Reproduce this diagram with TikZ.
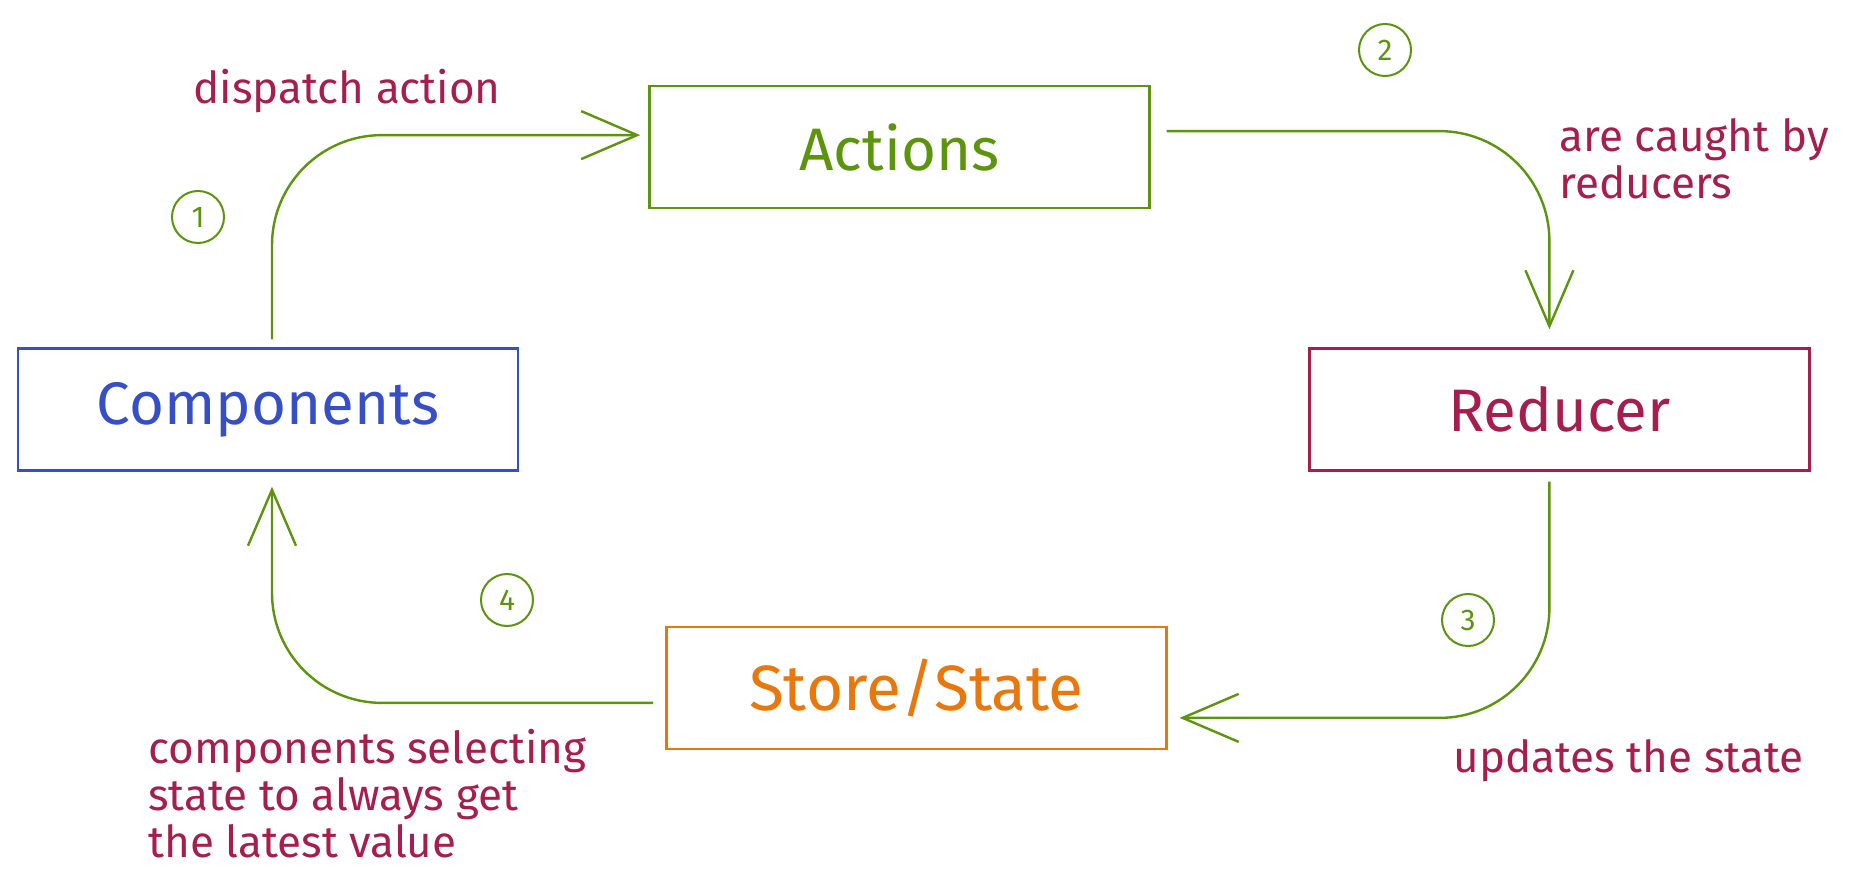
\documentclass[tikz,border=0pt]{standalone}
\usepackage{fontspec}
\setmainfont{Fira Sans}
\usetikzlibrary{positioning,arrows.meta}

\definecolor{compblue}{HTML}{364FC7}
\definecolor{flowgreen}{HTML}{5C940D}
\definecolor{notecrimson}{HTML}{A61E4D}
\definecolor{storeorange}{HTML}{E8770C}

\tikzset{
  block/.style={draw, line width=1.2pt, minimum width=250pt, minimum height=61pt,
    font=\fontsize{30}{36}\selectfont},
  flow/.style={draw=flowgreen, line width=1.2pt, rounded corners=55pt,
    -{Straight Barb[length=28pt,width=24pt]}},
  stepnum/.style={circle, draw=flowgreen, text=flowgreen, line width=1pt,
    minimum size=26pt, inner sep=0pt, font=\fontsize{15}{17}\selectfont},
  note/.style={text=notecrimson, inner sep=0pt, align=left,
    font=\fontsize{22}{23.5}\selectfont},
}

\begin{document}
\begin{tikzpicture}[x=0.5pt,y=0.5pt]
  \useasboundingbox (0,0) rectangle (1856,885);

  \node[block, draw=compblue, text=compblue] (comp) at (268,475.5) {Components};
  \node[block, draw=flowgreen, text=flowgreen, above right=69pt and 64.5pt of comp] (act) {Actions};
  \node[block, draw=notecrimson, text=notecrimson, right=394.5pt of comp] (red) {Reducer};
  \node[block, draw=storeorange, text=storeorange, below right=77pt and 73pt of comp,
    font=\fontsize{32}{36}\selectfont] (store) {Store/State};

  \node[stepnum] (n1) at (198,668) {1};
  \node[stepnum] (n2) at (1385,835) {2};
  \node[stepnum] (n3) at (1468,265) {3};
  \node[stepnum] (n4) at (507,285) {4};

  \draw[flow] ([xshift=2pt,yshift=4pt]comp.north) |- ([xshift=-4pt,yshift=6pt]act.west);
  \draw[flow] ([xshift=8pt,yshift=8pt]act.east) -| ([xshift=-5pt,yshift=9pt]red.north);
  \draw[flow] ([xshift=-5pt,yshift=-5pt]red.south) |- ([xshift=6pt,yshift=-15pt]store.east);
  \draw[flow] ([xshift=-6pt,yshift=-7.5pt]store.west) -| ([xshift=2pt,yshift=-7.5pt]comp.south);

  \node[note, anchor=base west] (lbl1) at (193,781) {dispatch action};
  \node[note, anchor=north west] (lbl2) at (1559,767) {are caught by\\reducers};
  \node[note, anchor=base west] (lbl3) at (1453,113) {updates the state};
  \node[note, anchor=north west] (lbl4) at (148,156) {components selecting\\state to always get\\the latest value};
\end{tikzpicture}
\end{document}
